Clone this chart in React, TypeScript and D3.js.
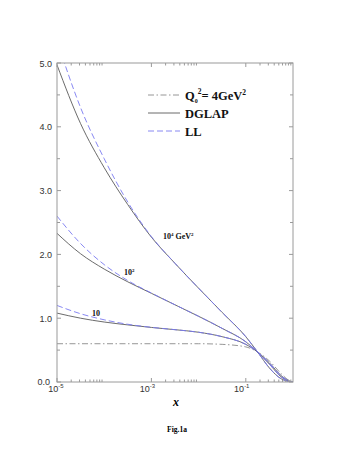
import React, { useEffect, useRef } from 'react';
import * as d3 from 'd3';

// x grid (Bjorken x)
const xGrid = [1e-5, 3.16e-5, 1e-4, 3.16e-4, 1e-3, 3.16e-3, 1e-2, 3.16e-2, 0.1, 0.178, 0.316, 0.562, 0.8, 1];

// starting distribution Q0^2 = 4 GeV^2
const q0Values = [0.6, 0.6, 0.6, 0.6, 0.6, 0.6, 0.6, 0.59, 0.55, 0.47, 0.33, 0.13, 0.03, 0];

// DGLAP (solid) and LL (dashed) for Q^2 = 10, 10^2, 10^4 GeV^2
const dglap10 = [1.08, 1.0, 0.94, 0.895, 0.855, 0.82, 0.78, 0.71, 0.59, 0.47, 0.3, 0.1, 0.02, 0];
const ll10 = [1.2, 1.07, 0.975, 0.905, 0.857, 0.82, 0.78, 0.71, 0.59, 0.47, 0.3, 0.1, 0.02, 0];
const dglap100 = [2.33, 2.01, 1.77, 1.57, 1.39, 1.21, 1.03, 0.84, 0.63, 0.47, 0.28, 0.08, 0.015, 0];
const ll100 = [2.6, 2.17, 1.84, 1.59, 1.395, 1.21, 1.03, 0.84, 0.63, 0.47, 0.28, 0.08, 0.015, 0];
const dglap1e4 = [4.97, 4.05, 3.36, 2.78, 2.27, 1.86, 1.47, 1.09, 0.71, 0.47, 0.22, 0.05, 0.01, 0];
const ll1e4 = [5.35, 4.3, 3.5, 2.82, 2.28, 1.86, 1.47, 1.09, 0.71, 0.47, 0.22, 0.05, 0.01, 0];

const yTicks = [0, 1, 2, 3, 4, 5];
const xMajor = [1e-5, 1e-3, 1e-1];
const xMajorExp = ['-5', '-3', '-1'];

const W = 354, H = 458;
const left = 57, right = 293, top = 63, bottom = 382;
const axisColor = '#9a9a9a';
const dglapColor = '#5a5a5a';
const llColor = '#7b7bf0';

const App = () => {
  const ref = useRef<SVGSVGElement>(null);

  useEffect(() => {
    const svg = d3.select(ref.current);
    svg.selectAll('*').remove();

    const x = d3.scaleLog().domain([1e-5, 1]).range([left, right]);
    const y = d3.scaleLinear().domain([0, 5]).range([bottom, top]);

    svg.append('rect').attr('width', W).attr('height', H).attr('fill', 'white');

    svg.append('defs').append('clipPath').attr('id', 'plot-clip')
      .append('rect').attr('x', left).attr('y', top)
      .attr('width', right - left).attr('height', bottom - top);

    const line = d3.line<number>()
      .x((d, i) => x(xGrid[i]))
      .y(d => y(d))
      .curve(d3.curveMonotoneX);

    const g = svg.append('g').attr('clip-path', 'url(#plot-clip)');

    // starting distribution
    g.append('path').attr('d', line(q0Values)!)
      .attr('fill', 'none').attr('stroke', '#8a8a8a').attr('stroke-width', 0.9)
      .attr('stroke-dasharray', '6,2.5,1.5,2.5');

    [dglap10, dglap100, dglap1e4].forEach(s => {
      g.append('path').attr('d', line(s)!)
        .attr('fill', 'none').attr('stroke', dglapColor).attr('stroke-width', 0.9);
    });
    [ll10, ll100, ll1e4].forEach(s => {
      g.append('path').attr('d', line(s)!)
        .attr('fill', 'none').attr('stroke', llColor).attr('stroke-width', 0.9)
        .attr('stroke-dasharray', '6,3');
    });

    // frame
    svg.append('rect').attr('x', left).attr('y', top)
      .attr('width', right - left).attr('height', bottom - top)
      .attr('fill', 'none').attr('stroke', axisColor).attr('stroke-width', 1);

    // y ticks (inward, both sides)
    d3.range(0, 5.01, 0.5).forEach(v => {
      const major = Math.abs(v - Math.round(v)) < 1e-6;
      const len = major ? 4 : 3;
      svg.append('line').attr('x1', left).attr('x2', left + len)
        .attr('y1', y(v)).attr('y2', y(v)).attr('stroke', axisColor);
      svg.append('line').attr('x1', right).attr('x2', right - len)
        .attr('y1', y(v)).attr('y2', y(v)).attr('stroke', axisColor);
    });
    yTicks.forEach(v => {
      svg.append('text').attr('x', v === 0 ? 50 : 52).attr('y', y(v) + (v === 0 ? 2.5 : 3.5))
        .attr('text-anchor', 'end')
        .attr('font-family', '"Liberation Sans", Arial, sans-serif')
        .attr('font-size', 9).attr('fill', '#333')
        .text(d3.format('.1f')(v));
    });

    // x ticks (inward, top and bottom)
    const minors: number[] = [];
    xMajor.forEach(m => { for (let k = 2; k <= 9; k++) minors.push(m * k); });
    xMajor.forEach(v => {
      svg.append('line').attr('x1', x(v)).attr('x2', x(v))
        .attr('y1', bottom).attr('y2', bottom - 4).attr('stroke', axisColor);
      svg.append('line').attr('x1', x(v)).attr('x2', x(v))
        .attr('y1', top).attr('y2', top + 4).attr('stroke', axisColor);
    });
    minors.forEach(v => {
      svg.append('line').attr('x1', x(v)).attr('x2', x(v))
        .attr('y1', bottom).attr('y2', bottom - 2.5).attr('stroke', axisColor);
      svg.append('line').attr('x1', x(v)).attr('x2', x(v))
        .attr('y1', top).attr('y2', top + 2.5).attr('stroke', axisColor);
    });
    xMajor.forEach((v, i) => {
      const t = svg.append('text').attr('x', x(v) + (i === 0 ? -1 : -4)).attr('y', 392)
        .attr('text-anchor', 'middle')
        .attr('font-family', '"Liberation Sans", Arial, sans-serif')
        .attr('font-size', 9).attr('fill', '#333');
      t.append('tspan').text('10');
      t.append('tspan').attr('dy', -4).attr('font-size', 6).text(xMajorExp[i]);
    });

    const serif = '"Liberation Serif", "Times New Roman", serif';

    // axis title
    svg.append('text').attr('x', 176).attr('y', 406)
      .attr('font-family', serif)
      .attr('font-style', 'italic').attr('font-weight', 'bold').attr('font-size', 12)
      .attr('text-anchor', 'middle').text('x');

    svg.append('text').attr('x', 177).attr('y', 432)
      .attr('font-family', serif)
      .attr('font-weight', 'bold').attr('font-size', 7.5)
      .attr('text-anchor', 'middle').text('Fig.1a');

    // curve labels
    const curveLabel = (lx: number, ly: number, base: string, sup: string, tail: string, tailSup: string) => {
      const t = svg.append('text').attr('x', lx).attr('y', ly)
        .attr('font-family', serif).attr('font-weight', 'bold').attr('font-size', 8).attr('fill', '#111');
      t.append('tspan').text(base);
      if (sup) t.append('tspan').attr('dy', -3.5).attr('font-size', 5).text(sup);
      if (tail) t.append('tspan').attr('dy', sup ? 3.5 : 0).text(tail);
      if (tailSup) t.append('tspan').attr('dy', -3.5).attr('font-size', 5).text(tailSup);
    };
    curveLabel(163, 239, '10', '4', ' GeV', '2');
    curveLabel(124, 275, '10', '2', '', '');
    curveLabel(92, 316, '10', '', '', '');

    // legend
    const legend = [
      { dash: '6,2.5,1.5,2.5', color: '#8a8a8a', y: 95 },
      { dash: null, color: dglapColor, y: 113 },
      { dash: '6,3', color: llColor, y: 131 },
    ];
    legend.forEach(l => {
      const ln = svg.append('line').attr('x1', 148).attr('x2', 180)
        .attr('y1', l.y).attr('y2', l.y).attr('stroke', l.color).attr('stroke-width', 0.9);
      if (l.dash) ln.attr('stroke-dasharray', l.dash);
    });
    const lt = svg.append('text').attr('x', 185).attr('y', 99.5)
      .attr('font-family', serif).attr('font-weight', 'bold').attr('font-size', 12.5).attr('fill', '#111');
    lt.append('tspan').text('Q');
    lt.append('tspan').attr('dy', 3).attr('font-size', 6).text('0');
    lt.append('tspan').attr('dy', -9).attr('font-size', 7.5).text('2');
    lt.append('tspan').attr('dy', 6).text('= 4GeV');
    lt.append('tspan').attr('dy', -5).attr('font-size', 7.5).text('2');
    svg.append('text').attr('x', 185).attr('y', 117.5)
      .attr('font-family', serif).attr('font-weight', 'bold').attr('font-size', 12.5).attr('fill', '#111')
      .text('DGLAP');
    svg.append('text').attr('x', 185).attr('y', 135.5)
      .attr('font-family', serif).attr('font-weight', 'bold').attr('font-size', 12.5).attr('fill', '#111')
      .text('LL');
  }, []);

  return (
    <svg ref={ref} width={W} height={H}
      style={{ position: 'absolute', left: 0, top: 0, display: 'block' }} />
  );
};

export default App;
